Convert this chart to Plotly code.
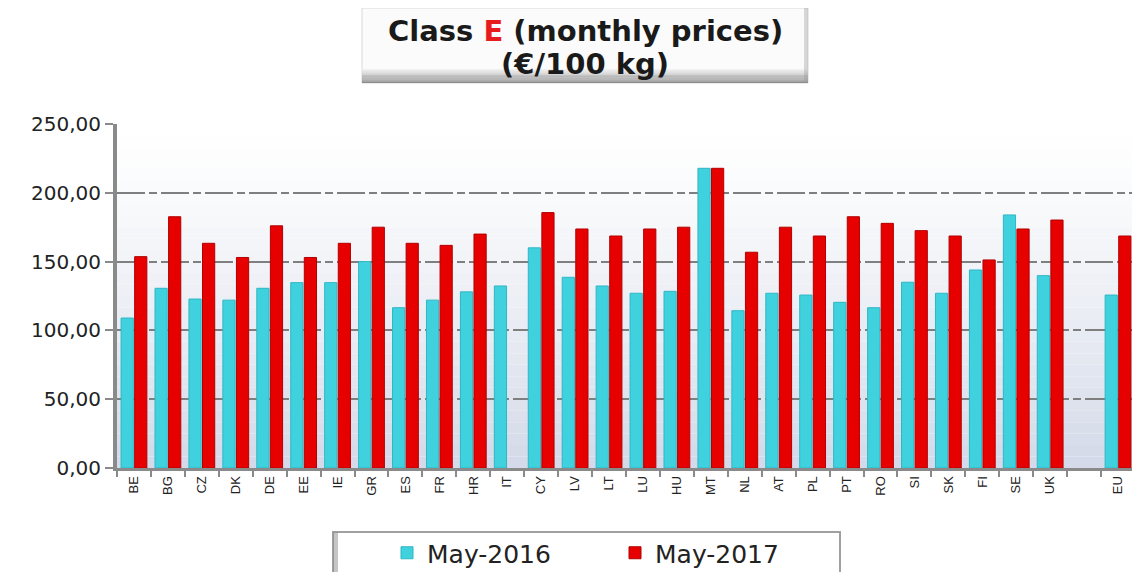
import plotly.graph_objects as go

categories = ["BE", "BG", "CZ", "DK", "DE", "EE", "IE", "GR", "ES", "FR", "HR", "IT", "CY", "LV",
              "LT", "LU", "HU", "MT", "NL", "AT", "PL", "PT", "RO", "SI", "SK", "FI", "SE", "UK", " ", "EU"]
may_2016 = [109.0, 130.6, 122.8, 122.0, 130.6, 134.7, 134.7, 150.0, 116.5, 122.0, 128.0, 132.3, 160.0, 138.6,
            132.3, 127.0, 128.4, 217.8, 114.3, 127.0, 125.7, 120.4, 116.5, 135.0, 127.0, 143.9, 183.9, 139.8, None, 125.7]
may_2017 = [153.6, 182.6, 163.3, 153.0, 176.0, 153.0, 163.3, 175.0, 163.3, 161.8, 170.0, None, 185.6, 173.7,
            168.6, 173.7, 175.0, 217.8, 156.8, 175.0, 168.6, 182.6, 177.8, 172.5, 168.6, 151.2, 173.7, 180.2, None, 168.6]
series_names = ["May-2016", "May-2017"]
y_ticks = [0, 50, 100, 150, 200, 250]

OFF = 8  # default page body margin
W, H = 1140 - OFF, 572 - OFF
L, R, T, B = 117 - OFF, 5 - OFF, 124 - OFF, 104 - OFF
R = 1140 - 1135 - 0  # right edge of plot area at page x=1135
PW = 1135 - 117
PH = 468 - 124
R = W - L - PW
B = H - T - PH


def px_x(p):
    return (p - 117) / PW


def px_y(p):
    return (468 - p) / PH


fig = go.Figure()
fig.add_trace(go.Bar(x=categories, y=may_2016, name=series_names[0],
                     marker=dict(color="#3fd2de", line=dict(color="#2fb6c4", width=1))))
fig.add_trace(go.Bar(x=categories, y=may_2017, name=series_names[1],
                     marker=dict(color="#e60000", line=dict(color="#b30000", width=1))))

shapes = []
# plot-area background gradient (white top -> light blue-grey bottom)
n = 30
for i in range(n):
    t = (i / (n - 1)) ** 1.3
    r = int(255 - (255 - 212) * t)
    g = int(255 - (255 - 218) * t)
    b = int(255 - (255 - 233) * t)
    shapes.append(dict(type="rect", xref="x domain", yref="y domain", x0=0, x1=1,
                       y0=1 - (i + 1) / n, y1=1 - i / n, fillcolor=f"rgb({r},{g},{b})",
                       line=dict(width=0), layer="below"))

# title box with bottom shading
tx0, tx1, ty0, ty1 = 362, 808, 8, 83
shapes.append(dict(type="rect", xref="paper", yref="paper", x0=px_x(tx0), x1=px_x(tx1),
                   y0=px_y(ty1), y1=px_y(ty0), fillcolor="#fbfbfb", line=dict(color="#d8d8d8", width=1)))
m = 12
for i in range(m):
    t = (i + 1) / m
    c = int(250 - (250 - 140) * t)
    y_top = ty1 - 14 + i * (14 / m)
    shapes.append(dict(type="rect", xref="paper", yref="paper", x0=px_x(tx0), x1=px_x(tx1),
                       y0=px_y(y_top + 14 / m), y1=px_y(y_top), fillcolor=f"rgb({c},{c},{c})",
                       line=dict(width=0)))
shapes.append(dict(type="rect", xref="paper", yref="paper", x0=px_x(tx1 - 4), x1=px_x(tx1),
                   y0=px_y(ty1), y1=px_y(ty0), fillcolor="rgba(150,150,150,0.35)", line=dict(width=0)))

# legend box
shapes.append(dict(type="rect", xref="paper", yref="paper", x0=px_x(333), x1=px_x(840),
                   y0=px_y(580), y1=px_y(532), fillcolor="white", line=dict(color="#a0a0a0", width=2)))
shapes.append(dict(type="rect", xref="paper", yref="paper", x0=px_x(333), x1=px_x(338),
                   y0=px_y(580), y1=px_y(532), fillcolor="rgba(140,140,140,0.5)", line=dict(width=0)))

fig.update_layout(
    width=W, height=H,
    margin=dict(l=L, r=R, t=T, b=B, autoexpand=False),
    paper_bgcolor="white",
    plot_bgcolor="rgba(0,0,0,0)",
    separators=",.",
    barmode="group",
    bargap=0.2,
    bargroupgap=0.1,
    shapes=shapes,
    font=dict(family="'DejaVu Sans', sans-serif", color="#222"),
    showlegend=True,
    legend=dict(orientation="h", x=px_x(387), xanchor="left", y=px_y(553), yanchor="middle",
                font=dict(size=25, color="#222", family="'DejaVu Sans', sans-serif"),
                borderwidth=0, bgcolor="rgba(0,0,0,0)",
                entrywidth=183, itemwidth=30),
    annotations=[
        dict(xref="paper", yref="paper", x=px_x(585), y=px_y(31), xanchor="center", yanchor="middle",
             showarrow=False,
             text="<b>Class <span style='color:#e81c1c'>E</span> (monthly prices)</b>",
             font=dict(size=29, color="#1a1a1a", family="'DejaVu Sans', sans-serif")),
        dict(xref="paper", yref="paper", x=px_x(585), y=px_y(64), xanchor="center", yanchor="middle",
             showarrow=False, text="<b>(€/100 kg)</b>",
             font=dict(size=29, color="#1a1a1a", family="'DejaVu Sans', sans-serif")),
    ],
)

fig.update_yaxes(range=[0, 250], tickvals=y_ticks, tickformat=".2f",
                 showgrid=True, gridcolor="#7f7f7f", gridwidth=2, griddash="28px,4px,8px,4px",
                 showline=True, linecolor="#8a8a8a", linewidth=4,
                 ticks="outside", ticklen=8, tickcolor="#8a8a8a", tickwidth=2,
                 tickfont=dict(size=20, color="#222", family="'DejaVu Sans', sans-serif"),
                 zeroline=False)
fig.update_xaxes(type="category", tickangle=-90, tickson="boundaries",
                 showline=True, linecolor="#8a8a8a", linewidth=3,
                 ticks="outside", ticklen=6, tickcolor="#8a8a8a", tickwidth=2,
                 tickfont=dict(size=13, color="#222", family="'Liberation Sans', sans-serif"),
                 showgrid=False)

fig.write_html("out.html")
